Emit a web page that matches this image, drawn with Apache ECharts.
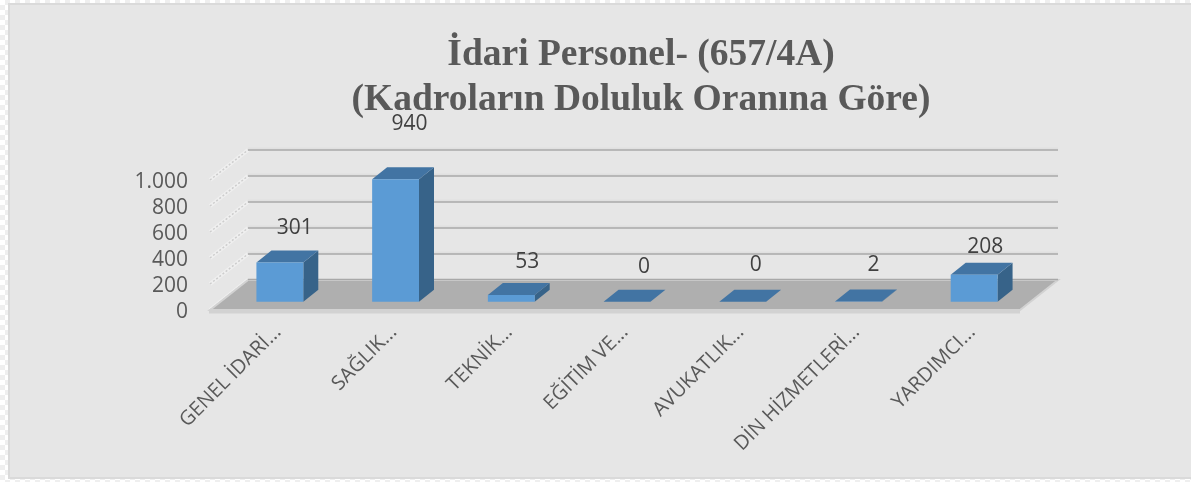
<!DOCTYPE html>
<html><head><meta charset="utf-8">
<script src="https://cdn.jsdelivr.net/npm/echarts@6/dist/echarts.min.js"></script>
<style>
html,body{margin:0;padding:0;width:1191px;height:482px;overflow:hidden;
background:repeating-conic-gradient(#efefef 0 25%,#fff 0 50%) 0 0/10px 10px}
#panel{position:absolute;left:8px;top:3px;width:1183px;height:476px;background:#e6e6e6;border:solid #dadada;border-width:2px 0 2px 2px;box-sizing:border-box}
#c{position:absolute;left:0;top:0;width:1191px;height:482px}
</style></head><body>
<div id="panel"></div><div id="c"></div>
<script>
const titleLines = ['İdari Personel- (657/4A)', '(Kadroların Doluluk Oranına Göre)'];
const categories = ['GENEL İDARİ...', 'SAĞLIK...', 'TEKNİK...', 'EĞİTİM VE...', 'AVUKATLIK...', 'DİN HİZMETLERİ...', 'YARDIMCI...'];
const values = [301, 940, 53, 0, 0, 2, 208];
const gridTicks = [0, 200, 400, 600, 800, 1000];
// hand placement of each value label relative to its bar, as in the reference
const labelLift = [35, 55, 33, 35, 37, 37, 28];
const labelShift = [15, 14, 16, 17, 13, 15, 11];

const depth = [38, -30];      // wall depth of the plot box
const barDepth = [15, -12];   // depth of each bar
const ff = '"Open Sans", sans-serif';

const chart = echarts.init(document.getElementById('c'), null, {renderer:'canvas'});
chart.setOption({
  animation:false,
  title:{text:titleLines.join('\n'), left:636, top:28, textAlign:'center',
    textStyle:{fontFamily:'"Liberation Serif", serif', fontWeight:'bold', fontSize:37.5, lineHeight:45, color:'#595959'}},
  grid:[
    {left:210, top:180, width:810, height:130},      // front plane of the plot box
    {left:222, top:171.4, width:810, height:130.4},  // plane of the bars' front faces
    {left:220, top:182.5, width:810, height:129.5}   // axis labels
  ],
  xAxis:[
    {type:'value', gridIndex:0, min:0, max:1, show:false},
    {type:'category', gridIndex:1, data:categories, show:false},
    {type:'category', gridIndex:2, data:categories, axisLine:{show:false}, axisTick:{show:false},
      axisLabel:{interval:0, rotate:45, margin:17, fontFamily:ff, fontSize:20, color:'#595959'}}
  ],
  yAxis:[
    {type:'value', gridIndex:0, min:0, max:1000, show:false},
    {type:'value', gridIndex:1, min:0, max:1000, show:false},
    {type:'value', gridIndex:2, min:0, max:1000, interval:200, axisLine:{show:false}, axisTick:{show:false}, splitLine:{show:false},
      axisLabel:{margin:32, fontFamily:ff, fontSize:21, color:'#595959',
        formatter:v=>String(v).replace(/\B(?=(\d{3})+$)/g,'.')}}
  ],
  series:[
    {type:'custom', xAxisIndex:0, yAxisIndex:0, silent:true, clip:false, z:1,
      data:gridTicks.map(t=>[0,t]),
      renderItem(params, api){
        const v = api.value(1);
        const a = api.coord([0,v]), b = api.coord([1,v]);
        const ba=[a[0]+depth[0],a[1]+depth[1]], bb=[b[0]+depth[0],b[1]+depth[1]];
        const kids=[];
        kids.push({type:'line',shape:{x1:a[0],y1:a[1],x2:ba[0],y2:ba[1]},style:{stroke:'#efefef',lineWidth:4}});
        kids.push({type:'line',shape:{x1:a[0],y1:a[1],x2:ba[0],y2:ba[1]},style:{stroke:'#cdcdcd',lineWidth:1.5,lineDash:[2,2]}});
        if(v===0){
          kids.push({type:'polygon',shape:{points:[a,ba,bb,b]},style:{fill:'#afafaf',stroke:'#d2d2d2',lineWidth:2}});
          kids.push({type:'line',shape:{x1:ba[0],y1:ba[1]-0.5,x2:bb[0],y2:bb[1]-0.5},style:{stroke:'#a8a8a8',lineWidth:1.5}});
          kids.push({type:'line',shape:{x1:a[0]-1,y1:a[1]+2,x2:b[0],y2:b[1]+2},style:{stroke:'#d2d2d2',lineWidth:3}});
        } else {
          kids.push({type:'line',shape:{x1:ba[0],y1:ba[1]-1.5,x2:bb[0],y2:bb[1]-1.5},style:{stroke:'#e0e0e0',lineWidth:2}});
          kids.push({type:'line',shape:{x1:ba[0],y1:ba[1],x2:bb[0],y2:bb[1]},style:{stroke:'#a8a8a8',lineWidth:1.5}});
        }
        return {type:'group',children:kids};
      }},
    {type:'custom', xAxisIndex:1, yAxisIndex:1, silent:true, clip:false, z:3,
      data:values.map((v,i)=>[i,v]),
      encode:{x:0,y:1},
      renderItem(params, api){
        const i=api.value(0), v=api.value(1);
        const base=api.coord([i,0]), top=api.coord([i,v]);
        const w=api.size([1,0])[0]*0.405;
        const L=base[0]-w/2, R=base[0]+w/2, dx=barDepth[0], dy=barDepth[1];
        const kids=[];
        kids.push({type:'polygon',shape:{points:[[R,base[1]],[R+dx,base[1]+dy],[R+dx,top[1]+dy],[R,top[1]]]},style:{fill:'#376389'}});
        kids.push({type:'polygon',shape:{points:[[L,top[1]],[L+dx,top[1]+dy],[R+dx,top[1]+dy],[R,top[1]]]},style:{fill:'#4274a3'}});
        kids.push({type:'rect',shape:{x:L,y:top[1],width:w,height:base[1]-top[1]},style:{fill:'#5b9bd5'}});
        kids.push({type:'text',x:base[0]+labelShift[i],y:top[1]-labelLift[i],
          style:{text:String(v),font:'21px '+ff,fill:'#404040',align:'center',verticalAlign:'middle'}});
        return {type:'group',children:kids};
      }}
  ]
});
</script></body></html>
